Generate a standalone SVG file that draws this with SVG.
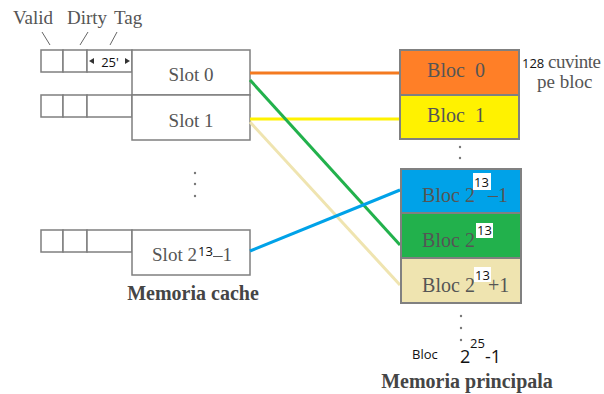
<svg xmlns="http://www.w3.org/2000/svg" width="604" height="394" viewBox="0 0 604 394">
<style>
.box{fill:#fff;stroke:#7f7f7f;stroke-width:1.5}
.blk{stroke:#808080;stroke-width:2}
.ser{font-family:"Liberation Serif",serif;font-size:19px;fill:#555}
.bser{font-family:"Liberation Serif",serif;font-size:20px;fill:#555}
.bold{font-family:"Liberation Serif",serif;font-size:20px;font-weight:bold;fill:#454545}
.sup{font-family:"Open Sans","Liberation Sans",sans-serif;font-size:13px;fill:#111}
.sans{font-family:"Open Sans","Liberation Sans",sans-serif;fill:#111}
.lead{stroke:#666;stroke-width:1}
.dot{fill:#777}
.c{stroke-width:3;fill:none}
</style>
<rect width="604" height="394" fill="#fff"/>
<g id="field-labels">
<text class="ser" x="13" y="24">Valid</text>
<text class="ser" x="67" y="24">Dirty</text>
<text class="ser" x="114" y="24">Tag</text>
<line class="lead" x1="42" y1="32" x2="50" y2="45"/>
<line class="lead" x1="88" y1="32" x2="80" y2="45"/>
<line class="lead" x1="117" y1="32" x2="110" y2="45"/>
</g>
<g id="slot0">
<rect class="box" x="41" y="50" width="22" height="22"/>
<rect class="box" x="63" y="50" width="24" height="22"/>
<rect class="box" x="87" y="50" width="45" height="22"/>
<rect class="box" x="132" y="50" width="118" height="45"/>
<text class="ser" x="191" y="81" text-anchor="middle">Slot 0</text>
<rect x="96" y="54" width="28" height="15" fill="#fff"/>
<polygon points="89,61 94,58 94,64" fill="#333"/>
<polygon points="130,61 125,58 125,64" fill="#333"/>
<text class="sans" x="110" y="67" font-size="13" text-anchor="middle">25'</text>
</g>
<g id="slot1">
<rect class="box" x="41" y="95" width="22" height="22"/>
<rect class="box" x="63" y="95" width="24" height="22"/>
<rect class="box" x="87" y="95" width="45" height="22"/>
<rect class="box" x="132" y="95" width="118" height="45"/>
<text class="ser" x="191" y="127" text-anchor="middle">Slot 1</text>
</g>
<g id="slot-dots">
<circle class="dot" cx="195" cy="173" r="1.2"/>
<circle class="dot" cx="195" cy="184" r="1.2"/>
<circle class="dot" cx="195" cy="196" r="1.2"/>
</g>
<g id="slotN">
<rect class="box" x="41" y="230" width="22" height="22"/>
<rect class="box" x="63" y="230" width="24" height="22"/>
<rect class="box" x="87" y="230" width="45" height="22"/>
<rect class="box" x="132" y="230" width="118" height="45"/>
<text class="ser" x="152" y="261" textLength="45">Slot 2</text>
<text class="ser" x="213" y="261">–1</text>
<rect x="198" y="244" width="15" height="14" fill="#fff"/>
<text class="sup" x="198" y="256">13</text>
</g>
<g id="cache-label">
<text class="bold" x="193" y="300" text-anchor="middle">Memoria cache</text>
</g>
<g id="connectors">
<line class="c" stroke="#F47A20" x1="250" y1="73" x2="400" y2="73"/>
<line class="c" stroke="#FFF200" x1="250" y1="119" x2="400" y2="119"/>
<line class="c" stroke="#EFE4B0" x1="250" y1="122" x2="400" y2="285"/>
<line class="c" stroke="#22B14C" x1="250" y1="80" x2="400" y2="245"/>
<line class="c" stroke="#00A2E8" x1="250" y1="251" x2="400" y2="190"/>
</g>
<g id="bloc0">
<rect class="blk" x="400" y="50" width="119" height="45" fill="#FF7F27"/>
<text class="bser" x="456" y="77" text-anchor="middle" xml:space="preserve">Bloc  0</text>
</g>
<g id="bloc-note">
<text class="sans" x="522" y="68" font-size="13">128</text>
<text class="ser" x="548" y="68" font-size="17" textLength="53">cuvinte</text>
<text class="ser" x="537" y="88" font-size="17">pe bloc</text>
</g>
<g id="bloc1">
<rect class="blk" x="400" y="95" width="119" height="44" fill="#FFF200"/>
<text class="bser" x="456" y="122" text-anchor="middle" xml:space="preserve">Bloc  1</text>
</g>
<g id="mem-dots1">
<circle class="dot" cx="460" cy="147" r="1.2"/>
<circle class="dot" cx="460" cy="158" r="1.2"/>
</g>
<g id="blocN-1">
<rect class="blk" x="401" y="169" width="120" height="44" fill="#00A2E8"/>
<text class="bser" x="422" y="202" textLength="53">Bloc 2</text>
<text class="bser" x="488" y="202">–1</text>
<rect x="473" y="173" width="18" height="17" fill="#fff"/>
<text class="sup" x="474" y="187">13</text>
</g>
<g id="blocN">
<rect class="blk" x="401" y="213" width="120" height="45" fill="#22B14C"/>
<text class="bser" x="422" y="247" textLength="53">Bloc 2</text>
<rect x="476" y="223" width="17" height="15" fill="#fff"/>
<text class="sup" x="477" y="235">13</text>
</g>
<g id="blocN+1">
<rect class="blk" x="401" y="258" width="120" height="45" fill="#EFE4B0"/>
<text class="bser" x="422" y="292" textLength="53">Bloc 2</text>
<text class="bser" x="488" y="292">+1</text>
<rect x="474" y="267" width="17" height="15" fill="#fff"/>
<text class="sup" x="475" y="280">13</text>
</g>
<g id="mem-dots2">
<circle class="dot" cx="461" cy="316" r="1.2"/>
<circle class="dot" cx="461" cy="328" r="1.2"/>
<circle class="dot" cx="461" cy="340" r="1.2"/>
</g>
<g id="last-bloc">
<text class="sans" x="412" y="359" font-size="13">Bloc</text>
<text class="sans" x="460" y="363" font-size="18">2</text>
<text class="sans" x="470" y="348" font-size="13">25</text>
<text class="sans" x="485" y="363" font-size="18">-1</text>
</g>
<g id="main-label">
<text class="bold" x="467" y="388" text-anchor="middle" font-size="21">Memoria principala</text>
</g>
</svg>
